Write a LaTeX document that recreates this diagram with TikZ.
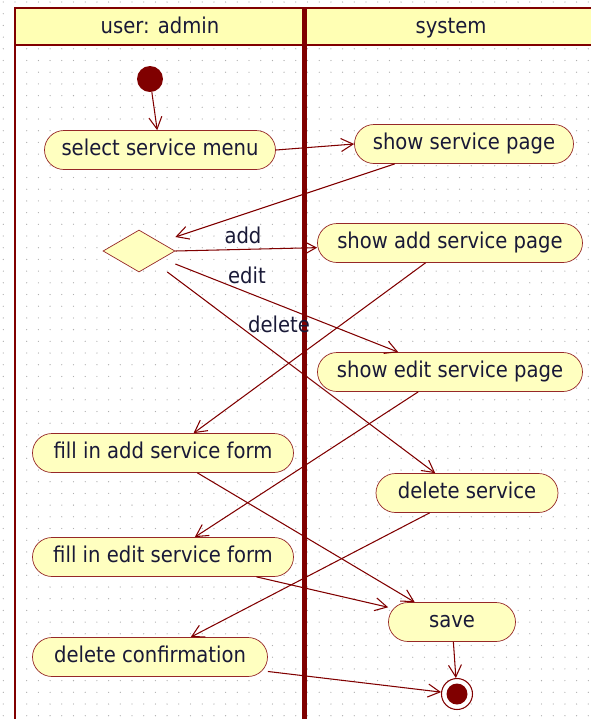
\documentclass[tikz,border=0pt]{standalone}
\usepackage{fontspec}
\newfontfamily\lanefont{DejaVu Sans Condensed}
\usetikzlibrary{arrows.meta,shapes.geometric}
\definecolor{linec}{RGB}{128,0,0}
\definecolor{edgec}{RGB}{150,40,40}
\definecolor{actc}{RGB}{255,255,192}
\definecolor{headc}{RGB}{255,255,180}
\definecolor{dotc}{RGB}{175,175,175}
\definecolor{inkc}{RGB}{25,25,55}

\begin{document}
\begin{tikzpicture}[x=0.2mm,y=-0.2mm,
	every node/.style = {font=\lanefont\fontsize{12.4}{14}\selectfont, text=inkc, text height=3.2mm, text depth=1mm},
	act/.style = {draw=edgec, fill=actc, rounded corners=3.9mm, minimum height=7.8mm, inner sep=0pt},
	flow/.style = {linec, line width=0.6pt, -{Straight Barb[length=2.4mm,width=2.6mm]}}]

\useasboundingbox (0,0) rectangle (591,719);
\foreach \i in {0,...,50}
{
	\foreach \j in {0,...,61}
	{
		\fill[dotc] (3.3+11.7*\i,2+11.7*\j) circle [radius=0.13mm];
	};
};

\fill[headc] (15,8) rectangle (591,45);
\draw[linec,line width=1.4pt] (15,719) -- (15,8) -- (591,8);
\draw[linec,line width=1.6pt] (15,45) -- (591,45);
\draw[linec,line width=2.8pt] (304.5,8) -- (304.5,719);
\node (userlane) at (160,28) {user: admin};
\node (syslane) at (451,28) {system};

\node[circle, fill=linec, minimum size=5.2mm, inner sep=0pt] (start) at (150,79) {};
\node[act, minimum width=46.2mm] (menu) at (160,150) {select service menu};
\node[act, minimum width=43.8mm] (page) at (464,144) {show service page};
\node[diamond, draw=edgec, fill=actc, minimum width=14.4mm, minimum height=8.4mm, inner sep=0pt] (decide) at (139,251) {};
\node[act, minimum width=53mm] (addpage) at (450,243) {show add service page};
\node[act, minimum width=53mm] (editpage) at (450,372) {show edit service page};
\node[act, minimum width=52.2mm] (addform) at (163,453) {fill in add service form};
\node[act, minimum width=36.4mm] (delserv) at (467,493) {delete service};
\node[act, minimum width=52.2mm] (editform) at (163,557) {fill in edit service form};
\node[act, minimum width=25.4mm] (save) at (452,622) {save};
\node[act, minimum width=47mm] (delconf) at (150,657) {delete confirmation};
\node[circle, draw=linec, fill=white, line width=0.6pt, minimum size=6.2mm, inner sep=0pt] (finish) at (457,694) {};
\fill[linec] (finish) circle [radius=2.1mm];

\draw[flow] (start) -- (menu);
\draw[flow] (menu.east) -- (page.west);
\draw[flow] (page.196) -- ([yshift=2.8mm]decide.east);
\draw[flow] (decide.east) -- (addpage.182);
\draw[flow] ([yshift=-2.6mm]decide.east) -- (editpage.159);
\draw[flow] ([xshift=-1.6mm,yshift=-4.2mm]decide.east) -- (delserv.148);
\draw[flow] (addpage.219) -- (addform.33);
\draw[flow] (editpage.212) -- (editform.32);
\draw[flow] (delserv.208) -- (delconf.26);
\draw[flow] (addform.-30) -- (save.152);
\draw[flow] (editform.-12) -- (save.167);
\draw[flow] (save) -- (finish);
\draw[flow] (delconf.-7) -- (finish);

\node (addlbl) at (243,238) {add};
\node (editlbl) at (247,278) {edit};
\node (dellbl) at (279,327) {delete};
\end{tikzpicture}
\end{document}
